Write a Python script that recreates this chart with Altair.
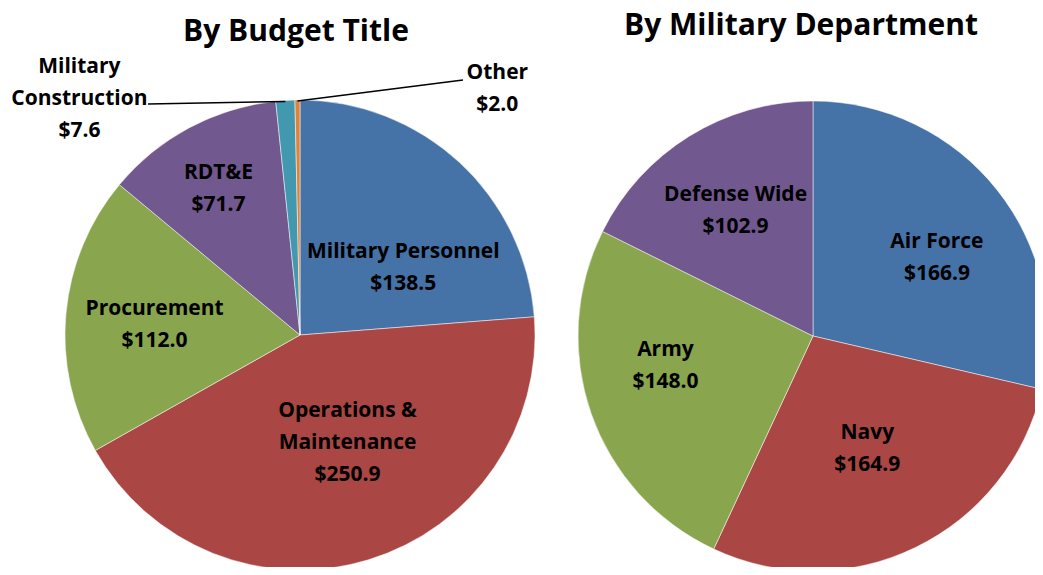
import math
import altair as alt
import pandas as pd

# ---------------- data ----------------
budget_names = ["Military Personnel", "Operations & Maintenance", "Procurement",
                "RDT&E", "Military Construction", "Other"]
budget_display = ["Military Personnel", "Operations &\nMaintenance", "Procurement",
                  "RDT&E", "Military\nConstruction", "Other"]
budget_values = [138.5, 250.9, 112.0, 71.7, 7.6, 2.0]

dept_names = ["Air Force", "Navy", "Army", "Defense Wide"]
dept_display = ["Air Force", "Navy", "Army", "Defense Wide"]
dept_values = [166.9, 164.9, 148.0, 102.9]

titles = ["By Budget Title", "By Military Department"]

# ---------------- styles ----------------
palette = ["#4572A7", "#AA4643", "#89A54E", "#71588F", "#4198AF", "#DB843D"]
FONT = "Open Sans"
LABEL_SIZE = 21
TITLE_SIZE = 30
LINE_H = 32
R = 235
LEFT_C = (292, 327)
RIGHT_C = (805, 328)

# label placement styles: (radius, dx, dy)
budget_label_style = {
    "Military Personnel": (130, 15, 28),
    "Operations & Maintenance": (115, 14, -2),
    "Procurement": (146, 0, 3),
    "RDT&E": (169, -2, 3),
    "Military Construction": (250, -205, 14),
    "Other": (250, 200, 4),
}
dept_label_style = {
    "Air Force": (148, 8, 14),
    "Navy": (124, 0, 2),
    "Army": (150, -6, -20),
    "Defense Wide": (147, 0, 0),
}
# leader line label-side anchors relative to pie centre
leader_anchor = {
    "Military Construction": (-152, -231),
    "Other": (163, -255),
}


def make_df(names, display, values):
    return pd.DataFrame({
        "name": names,
        "label": [d + "\n$" + f"{v:.1f}" for d, v in zip(display, values)],
        "value": values,
        "idx": list(range(len(names))),
    })


df_budget = make_df(budget_names, budget_display, budget_values)
df_dept = make_df(dept_names, dept_display, dept_values)

color_scale = alt.Scale(domain=budget_names + dept_names,
                        range=palette[:6] + palette[:4])
theta_scale = alt.Scale(domain=[0, 1])


def base(df):
    return (alt.Chart(df)
            .transform_window(cum="sum(value)", sort=[alt.SortField("idx")],
                              frame=[None, 0])
            .transform_joinaggregate(total="sum(value)")
            .transform_calculate(
                f0="(datum.cum - datum.value) / datum.total",
                f1="datum.cum / datum.total",
                fm="(datum.cum - datum.value / 2) / datum.total"))


def pie(df, c):
    return base(df).mark_arc(outerRadius=R, stroke="#ffffff", strokeWidth=0.5).encode(
        theta=alt.Theta("f0:Q", scale=theta_scale),
        theta2="f1:Q",
        color=alt.Color("name:N", scale=color_scale, legend=None),
        x=alt.value(c[0]), y=alt.value(c[1]),
    )


def labels(df, c, style):
    layers = []
    for name, (r, dx, dy) in style.items():
        text = df.loc[df["name"] == name, "label"].iloc[0]
        n_lines = text.count("\n") + 1
        dy_block = dy - (n_lines - 1) * LINE_H / 2
        layers.append(
            base(df).transform_filter(alt.datum.name == name)
            .mark_text(radius=r, dx=dx, dy=dy_block, lineBreak="\n", lineHeight=LINE_H,
                       font=FONT, fontSize=LABEL_SIZE, fontWeight="bold", color="#000000",
                       align="center", baseline="middle")
            .encode(theta=alt.Theta("fm:Q", scale=theta_scale),
                    text="label:N",
                    x=alt.value(c[0]), y=alt.value(c[1])))
    return layers


# leader lines: slice end computed from the data, label end from style anchors
total_b = sum(budget_values)
rows = []
cum = 0.0
for n, v in zip(budget_names, budget_values):
    mid = (cum + v / 2) / total_b * 2 * math.pi
    cum += v
    if n in leader_anchor:
        ax, ay = leader_anchor[n]
        rows.append({"line": n, "px": LEFT_C[0] + ax, "py": LEFT_C[1] + ay, "o": 0})
        rows.append({"line": n, "px": LEFT_C[0] + (R - 1) * math.sin(mid),
                     "py": LEFT_C[1] - (R - 1) * math.cos(mid), "o": 1})
df_lines = pd.DataFrame(rows)

leaders = alt.Chart(df_lines).mark_line(color="#000000", strokeWidth=1.4).encode(
    x=alt.X("px:Q", scale=None, axis=None),
    y=alt.Y("py:Q", scale=None, axis=None),
    detail="line:N",
    order="o:Q",
)

df_titles = pd.DataFrame({"t": titles})
title_left = alt.Chart(df_titles).transform_filter(alt.datum.t == titles[0]).mark_text(
    font=FONT, fontSize=TITLE_SIZE, fontWeight="bold", color="#000000", align="center",
    baseline="middle").encode(text="t:N", x=alt.value(288), y=alt.value(24))
title_right = alt.Chart(df_titles).transform_filter(alt.datum.t == titles[1]).mark_text(
    font=FONT, fontSize=TITLE_SIZE, fontWeight="bold", color="#000000", align="center",
    baseline="middle").encode(text="t:N", x=alt.value(793), y=alt.value(18))

chart = alt.layer(
    pie(df_budget, LEFT_C),
    pie(df_dept, RIGHT_C),
    leaders,
    *labels(df_budget, LEFT_C, budget_label_style),
    *labels(df_dept, RIGHT_C, dept_label_style),
    title_left,
    title_right,
).properties(width=1027, height=559, padding=0, autosize="none",
             background="#ffffff").configure_view(stroke=None)

chart.save("out.html", embed_options={"renderer": "svg", "actions": False})
